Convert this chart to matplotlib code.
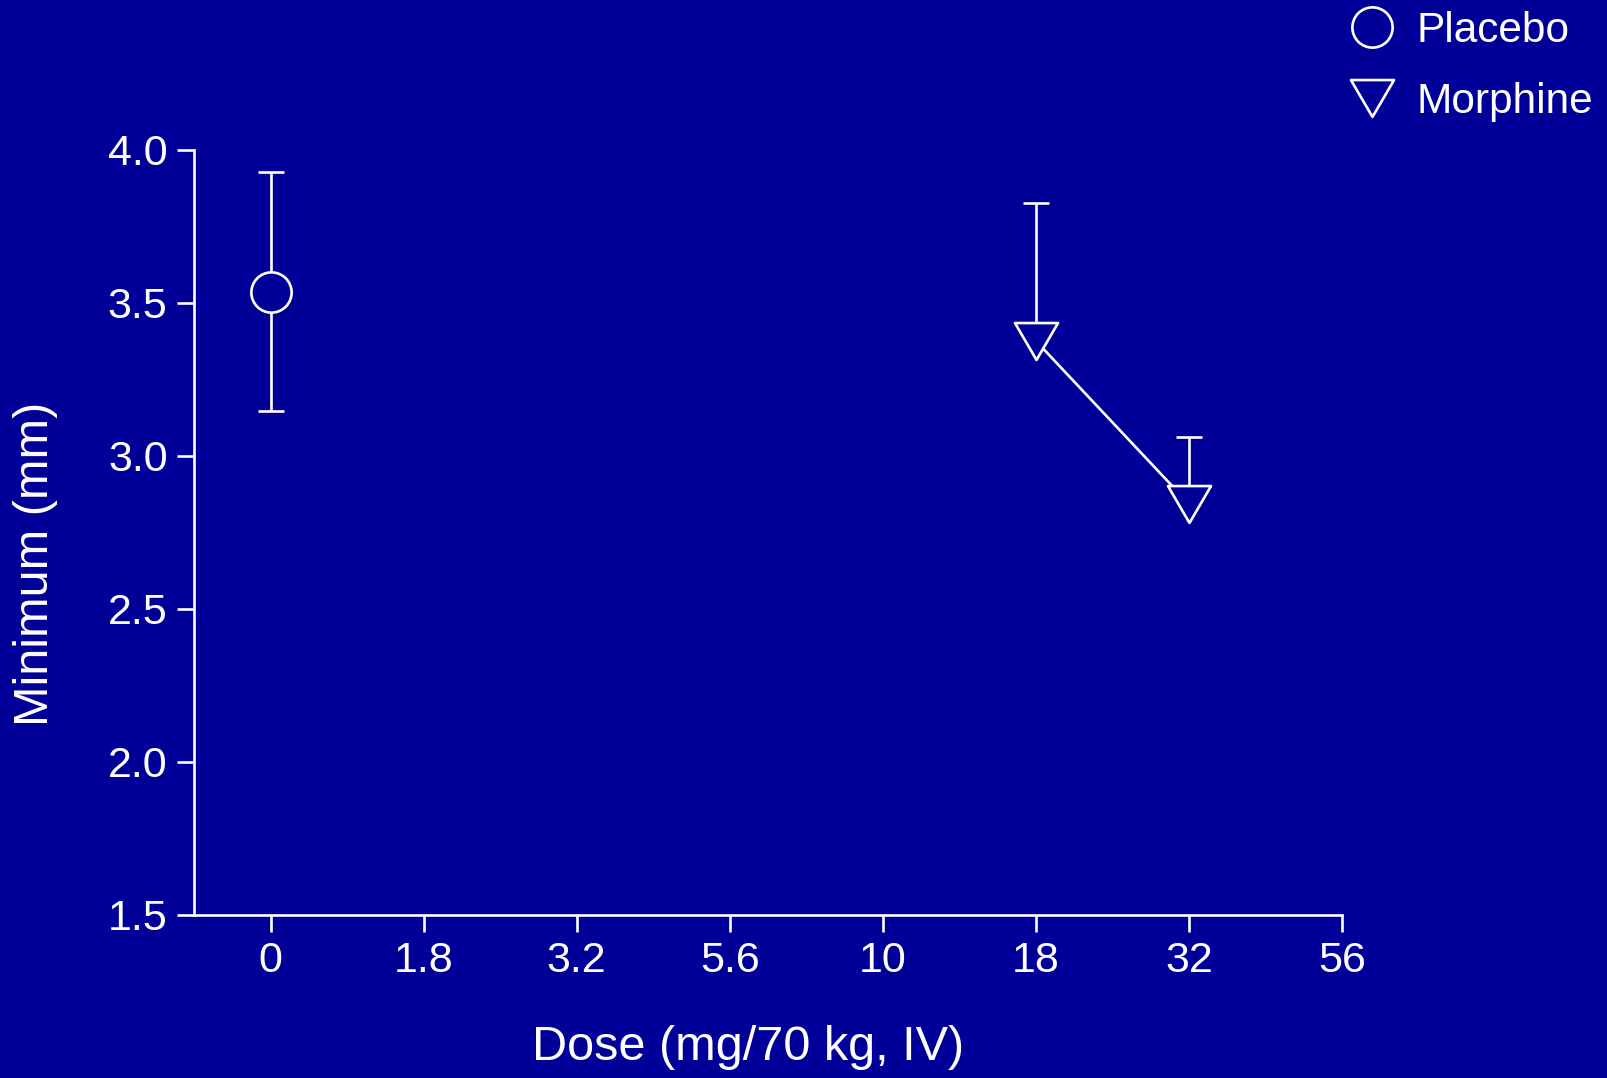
import matplotlib
matplotlib.use("Agg")
import matplotlib.pyplot as plt
from matplotlib.path import Path

plt.rcParams['font.family'] = ['Liberation Sans', 'DejaVu Sans']

BG = "#000099"
FG = "white"

dose_labels = ["0", "1.8", "3.2", "5.6", "10", "18", "32", "56"]

placebo_pos = [0]
placebo_mean = [3.534]
placebo_lo = [3.146]
placebo_hi = [3.927]

morphine_pos = [5, 6]
morphine_mean = [3.375, 2.843]
morphine_hi = [3.825, 3.060]

# downward triangle, a bit wider than tall
tri = Path([(-1, 0.857), (1, 0.857), (0, -0.857), (-1, 0.857)],
           [Path.MOVETO, Path.LINETO, Path.LINETO, Path.CLOSEPOLY])

fig = plt.figure(figsize=(16.08, 10.78), dpi=100, facecolor=BG)
ax = fig.add_axes([194/1608, 1-915/1078, (1342-194)/1608, (915-149.5)/1078])
ax.set_facecolor(BG)

lw = 1.9

# placebo
ax.errorbar(placebo_pos, placebo_mean,
            yerr=[[m - l for m, l in zip(placebo_mean, placebo_lo)],
                  [h - m for m, h in zip(placebo_mean, placebo_hi)]],
            fmt='none', ecolor=FG, elinewidth=lw, capsize=9.5, capthick=lw,
            zorder=2)
ax.plot(placebo_pos, placebo_mean, marker='o', ms=29, mfc=BG, mec=FG,
        mew=lw, ls='none', zorder=4, label="Placebo")

# morphine (upper error only)
eb = ax.errorbar(morphine_pos, morphine_mean,
                 yerr=[[0] * len(morphine_mean),
                       [h - m for m, h in zip(morphine_mean, morphine_hi)]],
                 fmt='none', ecolor=FG, elinewidth=lw, capsize=9.5,
                 capthick=lw, zorder=2)
eb[1][0].set_visible(False)
ax.plot(morphine_pos, morphine_mean, color=FG, lw=lw, zorder=3)
ax.plot(morphine_pos, morphine_mean, marker=tri, ms=31, mfc=BG, mec=FG,
        mew=lw, ls='none', zorder=4, label="Morphine")

ax.set_xlim(-0.5, 7)
ax.set_ylim(1.5, 4.0)
ax.set_xticks(range(len(dose_labels)))
ax.set_xticklabels(dose_labels)
ax.set_yticks([1.5, 2.0, 2.5, 3.0, 3.5, 4.0])
ax.set_yticklabels(["1.5", "2.0", "2.5", "3.0", "3.5", "4.0"])

for s in ["top", "right"]:
    ax.spines[s].set_visible(False)
for s in ["left", "bottom"]:
    ax.spines[s].set_color(FG)
    ax.spines[s].set_linewidth(lw)
ax.tick_params(colors=FG, labelsize=31, width=lw, length=12, pad=7)

fig.text(748/1608, 1-1048/1078, "Dose (mg/70 kg, IV)", color=FG,
         fontsize=35, ha='center', va='center')
fig.text(36/1608, 1-564/1078, "Minimum (mm)", color=FG, fontsize=35,
         ha='center', va='center', rotation=90)

ax.legend(loc='upper left', bbox_to_anchor=(1313/1608, 1+27/1078),
          bbox_transform=fig.transFigure, frameon=False, fontsize=30.5,
          labelcolor=FG, handlelength=1.0, handletextpad=0.55,
          labelspacing=0.72, markerscale=1.0)

fig.savefig("out.png", dpi=100, facecolor=BG)
